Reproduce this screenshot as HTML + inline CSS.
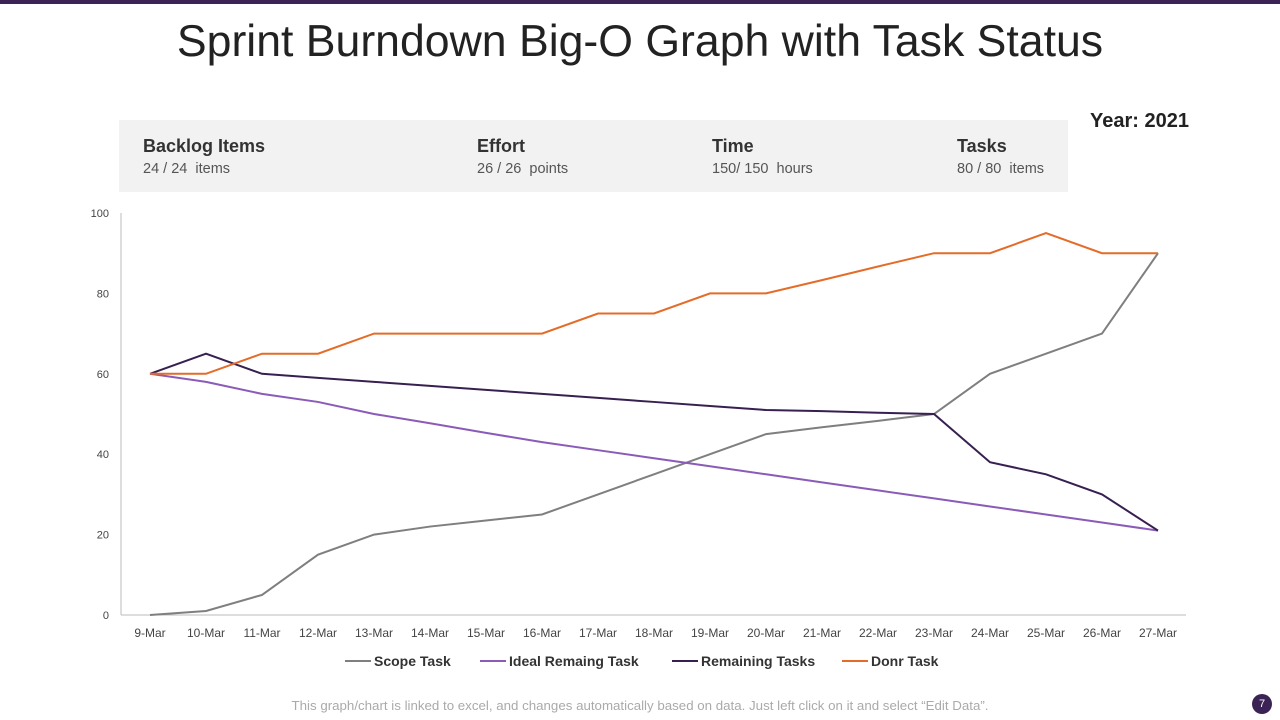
<!DOCTYPE html>
<html><head><meta charset="utf-8"><style>
body{margin:0;width:1280px;height:720px;background:#fff;font-family:"Liberation Sans",sans-serif;position:relative;overflow:hidden}
.topbar{position:absolute;left:0;top:0;width:1280px;height:4px;background:#3b2356}
h1{position:absolute;left:0;top:17px;width:1280px;text-align:center;margin:0;font-weight:normal;font-size:44.6px;color:#222}
.year{position:absolute;left:1090px;top:110px;font-size:20px;font-weight:bold;color:#222}
.panel{position:absolute;left:119px;top:120px;width:949px;height:72px;background:#f2f2f2}
.kpi{position:absolute;top:16px}
.kpi b{display:block;font-size:18px;color:#333}
.kpi span{display:block;font-size:14.5px;color:#555;margin-top:4px}
.foot{position:absolute;left:0;width:1280px;top:698px;text-align:center;font-size:13.3px;color:#aaa}
.pg{position:absolute;left:1252px;top:694px;width:20px;height:20px;border-radius:50%;background:#3b2356;color:#fff;font-size:11px;text-align:center;line-height:20px}
</style></head><body>
<div class="topbar"></div>
<h1>Sprint Burndown Big-O Graph with Task Status</h1>
<div class="year">Year: 2021</div>
<div class="panel">
<div class="kpi" style="left:24px"><b>Backlog Items</b><span>24 / 24&nbsp; items</span></div>
<div class="kpi" style="left:358px"><b>Effort</b><span>26 / 26&nbsp; points</span></div>
<div class="kpi" style="left:593px"><b>Time</b><span>150/ 150&nbsp; hours</span></div>
<div class="kpi" style="left:838px"><b>Tasks</b><span>80 / 80&nbsp; items</span></div>
</div>
<svg id="chart" width="1280" height="720" style="position:absolute;left:0;top:0"></svg>
<div class="foot">This graph/chart is linked to excel, and changes automatically based on data. Just left click on it and select “Edit Data”.</div>
<div class="pg">7</div>
<script>
const categories=["9-Mar","10-Mar","11-Mar","12-Mar","13-Mar","14-Mar","15-Mar","16-Mar","17-Mar","18-Mar","19-Mar","20-Mar","21-Mar","22-Mar","23-Mar","24-Mar","25-Mar","26-Mar","27-Mar"];
const scopeTask=[0,1,5,15,20,22,23.5,25,30,35,40,45,46.7,48.3,50,60,65,70,90];
const idealTask=[60,58,55,53,50,47.7,45.3,43,41,39,37,35,33,31,29,27,25,23,21];
const remainingTasks=[60,65,60,59,58,57,56,55,54,53,52,51,50.7,50.3,50,38,35,30,21];
const doneTask=[60,60,65,65,70,70,70,70,75,75,80,80,83.3,86.7,90,90,95,90,90];
const yTicks=[0,20,40,60,80,100];
const seriesNames=["Scope Task","Ideal Remaing Task","Remaining Tasks","Donr Task"];
const svg=document.getElementById('chart');const NS="http://www.w3.org/2000/svg";
const x=i=>150+i*56, y=v=>615-v*4.02;
function mk(t,a,p){const e=document.createElementNS(NS,t);for(const k in a)e.setAttribute(k,a[k]);(p||svg).appendChild(e);return e;}
const ax=mk('line',{x1:121,y1:213,x2:121,y2:615,stroke:'#bbb'});

const bx=mk('line',{x1:121,y1:615,x2:1186,y2:615,stroke:'#bbb'});

yTicks.forEach(v=>{const t=mk('text',{x:109,y:y(v)+4,'text-anchor':'end','font-size':11,fill:'#444'});t.textContent=v;
});
categories.forEach((c,i)=>{const t=mk('text',{x:x(i),y:637,'text-anchor':'middle','font-size':12,fill:'#444'});t.textContent=c;
});
const colors=['#7f7f7f','#8a5bb8','#372050','#e46c28'];
[scopeTask,idealTask,remainingTasks,doneTask].forEach((d,s)=>{
const p=mk('polyline',{points:d.map((v,i)=>x(i)+','+y(v)).join(' '),fill:'none',stroke:colors[s],'stroke-width':2});
});
const lx=[345,480,672,842];
seriesNames.forEach((n,s)=>{const g=mk('g',{});

mk('line',{x1:lx[s],y1:661,x2:lx[s]+26,y2:661,stroke:colors[s],'stroke-width':2},g);
const t=mk('text',{x:lx[s]+29,y:666,'font-size':14,'font-weight':'bold',fill:'#333'},g);t.textContent=n;});
</script>
</body></html>
